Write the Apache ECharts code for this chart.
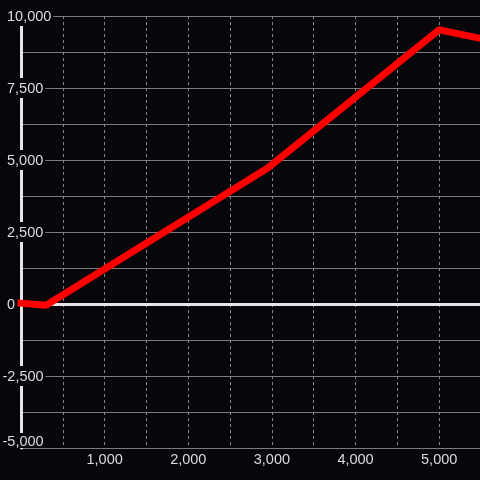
<!DOCTYPE html>
<html><head><meta charset="utf-8">
<script src="https://cdn.jsdelivr.net/npm/echarts@6/dist/echarts.min.js"></script>
<style>html,body{margin:0;padding:0;background:#07060a}#c{width:480px;height:480px}</style>
</head><body><div id="c"></div>
<script>
const xValues = [0, 300, 2950, 5000, 5500];
const yValues = [30, -40, 4720, 9520, 9220];
const xTickValues = [1000, 2000, 3000, 4000, 5000];
const yTickValues = [-5000, -2500, 0, 2500, 5000, 7500, 10000];

const BG = '#07060a';
const fmt = v => Number(v).toLocaleString('en-US');
const yMin = yTickValues[0];
const chart = echarts.init(document.getElementById('c'), null, {renderer: 'canvas'});
chart.setOption({
  backgroundColor: BG,
  animation: false,
  grid: {left: 21, right: -1, top: 16, bottom: 32, containLabel: false, outerBoundsMode: 'none'},
  xAxis: [{
    type: 'value', min: 0, max: 5500, interval: 500,
    axisLine: {show: false, onZero: false},
    axisTick: {show: false},
    splitLine: {show: true, lineStyle: {color: '#868686', width: 1, type: [3, 3]}},
    axisLabel: {
      formatter: v => xTickValues.includes(v) ? fmt(v) : '',
      color: '#dcdcdc', fontSize: 14.5, fontFamily: 'Liberation Sans', margin: 4
    }
  }, {
    type: 'value', min: 0, max: 5500, position: 'top',
    axisLine: {show: true, onZero: true, lineStyle: {color: '#e6e6e6', width: 3}},
    axisTick: {show: false}, axisLabel: {show: false}, splitLine: {show: false}
  }],
  yAxis: {
    type: 'value', min: -5000, max: 10000, interval: 1250, position: 'left',
    axisLine: {show: true, onZero: false, lineStyle: {color: '#e6e6e6', width: 3}},
    axisTick: {show: false},
    splitLine: {show: true, lineStyle: {color: '#7c7c7c', width: 1}},
    axisLabel: {
      formatter: v => {
        if (!yTickValues.includes(v)) return '';
        if (v === yMin) return '{b|' + fmt(v) + '}';
        return v < 0 ? fmt(v) : '{s|}' + fmt(v);
      },
      rich: {s: {width: 4.5}, b: {lineHeight: 11, fontSize: 14.5, fontFamily: 'Liberation Sans', color: '#dcdcdc'}},
      align: 'left', margin: 18.5,
      color: '#dcdcdc', fontSize: 14.5, fontFamily: 'Liberation Sans', lineHeight: 16,
      backgroundColor: BG, padding: [3, 2, 1, 0],
      verticalAlignMinLabel: 'bottom'
    }
  },
  series: [{
    type: 'line', xAxisIndex: 0,
    data: xValues.map((x, i) => [x, yValues[i]]),
    showSymbol: false, symbol: 'none',
    lineStyle: {color: '#ff0000', width: 7, cap: 'square'},
    itemStyle: {color: '#ff0000'}
  }]
});
</script></body></html>
